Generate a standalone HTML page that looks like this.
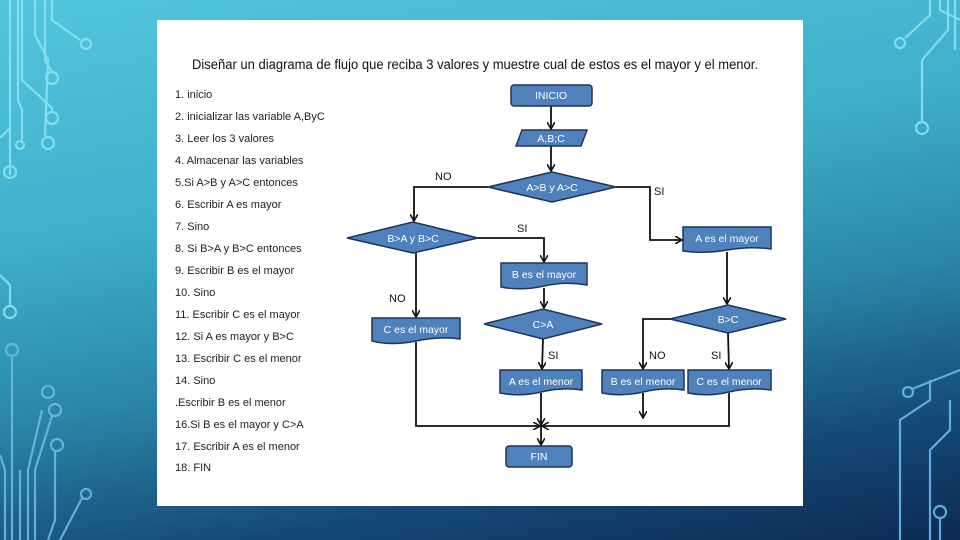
<!DOCTYPE html>
<html><head><meta charset="utf-8"><style>
html,body{margin:0;padding:0;width:960px;height:540px;overflow:hidden}
body{background:linear-gradient(170deg,#52c6dc 0%,#3fb0cc 35%,#2a86a8 60%,#154a78 82%,#0c2a52 100%);font-family:"Liberation Sans",sans-serif}
svg{position:absolute;left:0;top:0}
</style></head><body>
<svg width="960" height="540" viewBox="0 0 960 540">
<g fill="none" stroke="#8fe4f2" stroke-width="2.2" opacity="0.85">
<path d="M10 0V175M10 172"/><circle cx="10" cy="172" r="6"/>
<path d="M18 0V100L22 110V140"/><circle cx="20" cy="145" r="4"/>
<path d="M45 0V60L52 72"/><circle cx="52" cy="78" r="6"/>
<path d="M22 0V80L52 108V112"/><circle cx="52" cy="118" r="6"/>
<path d="M35 0V35L48 60L45 136"/><circle cx="48" cy="143" r="6"/>
<path d="M52 0V20L80 40"/><circle cx="86" cy="44" r="5"/>
<path d="M0 138L10 128"/>
<path d="M0 275L10 285V306"/><circle cx="10" cy="312" r="6"/>
<path d="M930 0V15L905 38"/><circle cx="900" cy="43" r="5"/>
<path d="M948 0V30L922 60V122"/><circle cx="922" cy="128" r="6"/>
<path d="M940 0V10L960 20M955 0V50"/>
</g>
<g fill="none" stroke="#6ab8ea" stroke-width="2.2" opacity="0.9">
<circle cx="12" cy="350" r="6"/><path d="M12 356V540"/>
<path d="M0 455L5 470V540M20 470V540M28 540V470L42 410"/><circle cx="48" cy="392" r="6"/>
<path d="M35 540V470L52 416"/><circle cx="55" cy="410" r="6"/>
<path d="M55 451V520L48 540"/><circle cx="57" cy="445" r="6"/>
<path d="M60 540L82 498"/><circle cx="86" cy="494" r="5"/>
<path d="M960 370L912 389"/><circle cx="908" cy="392" r="5"/>
<path d="M900 540V420L930 400V380"/>
<path d="M930 540V450L950 430V400"/>
<circle cx="940" cy="512" r="6"/><path d="M940 518V540"/>
</g>
<rect x="157" y="20" width="646" height="486" fill="#fff"/>
<text x="192" y="69" font-size="13.5" fill="#111" textLength="566" lengthAdjust="spacingAndGlyphs">Diseñar un diagrama de flujo que reciba 3 valores y muestre cual de estos es el mayor y el menor.</text>
<g font-size="11" fill="#222">
<text x="175" y="98">1. inicio</text>
<text x="175" y="120">2. inicializar las variable A,ByC</text>
<text x="175" y="142">3. Leer los 3 valores</text>
<text x="175" y="164">4. Almacenar las variables</text>
<text x="175" y="186">5.Si A&gt;B y A&gt;C entonces</text>
<text x="175" y="208">6. Escribir A es mayor</text>
<text x="175" y="230">7. Sino</text>
<text x="175" y="252">8. Si B&gt;A y B&gt;C entonces</text>
<text x="175" y="274">9. Escribir B es el mayor</text>
<text x="175" y="296">10. Sino</text>
<text x="175" y="318">11. Escribir C es el mayor</text>
<text x="175" y="340">12. Si A es mayor y B&gt;C</text>
<text x="175" y="362">13. Escribir C es el menor</text>
<text x="175" y="384">14. Sino</text>
<text x="175" y="406">.Escribir B es el menor</text>
<text x="175" y="428">16.Si B es el mayor y C&gt;A</text>
<text x="175" y="450">17. Escribir A es el menor</text>
<text x="175" y="471">18. FIN</text>
</g>
<defs><marker id="a" markerWidth="8" markerHeight="8" refX="7" refY="4" orient="auto" markerUnits="userSpaceOnUse"><path d="M0 0L7 4L0 8" fill="none" stroke="#111" stroke-width="1.6"/></marker></defs>
<g fill="none" stroke="#111" stroke-width="1.8">
<path d="M551 106V129" marker-end="url(#a)"/>
<path d="M551 146V171" marker-end="url(#a)"/>
<path d="M488 187H414V221" marker-end="url(#a)"/>
<path d="M616 187H650V240H682" marker-end="url(#a)"/>
<path d="M478 238H544V262" marker-end="url(#a)"/>
<path d="M727 252V304" marker-end="url(#a)"/>
<path d="M416 253V317" marker-end="url(#a)"/>
<path d="M544 288V308" marker-end="url(#a)"/>
<path d="M543 339L542 369" marker-end="url(#a)"/>
<path d="M670 319H643V369" marker-end="url(#a)"/>
<path d="M728 333L729 369" marker-end="url(#a)"/>
<path d="M643 393V418" marker-end="url(#a)"/>
<path d="M541 393V425" marker-end="url(#a)"/>
<path d="M416 342V426H540" marker-end="url(#a)"/>
<path d="M729 393V426H542" marker-end="url(#a)"/>
<path d="M541 426V445" marker-end="url(#a)"/>
</g>
<g fill="#4f81bd" stroke="#1e3556" stroke-width="1.5">
<rect x="511" y="85" width="81" height="21" rx="3"/>
<path d="M522 130H587L581 146H516Z"/>
<path d="M488 187L552 172L616 187L552 202Z"/>
<path d="M347 238L413 222L478 238L413 253Z"/>
<path d="M501 263H587V285Q566 281 544 286T501 287Z"/>
<path d="M683 227H771V249Q750 246 727 250T683 251Z"/>
<path d="M372 318H460V339Q440 336 416 341T372 341Z"/>
<path d="M484 324L543 309L602 324L543 339Z"/>
<path d="M670 319L728 305L786 319L728 333Z"/>
<path d="M500 370H582V390Q562 387 541 392T500 393Z"/>
<path d="M602 370H684V390Q664 387 643 392T602 393Z"/>
<path d="M688 370H771V390Q750 387 729 392T688 393Z"/>
<rect x="506" y="446" width="66" height="21" rx="3"/>
</g>
<g fill="#fff" font-size="10.5" text-anchor="middle">
<text x="551" y="99">INICIO</text>
<text x="551" y="142">A,B;C</text>
<text x="552" y="191">A&gt;B y A&gt;C</text>
<text x="413" y="242">B&gt;A y B&gt;C</text>
<text x="544" y="278">B es el mayor</text>
<text x="727" y="242">A es el mayor</text>
<text x="416" y="333">C es el mayor</text>
<text x="543" y="328">C&gt;A</text>
<text x="728" y="323">B&gt;C</text>
<text x="541" y="385">A es el menor</text>
<text x="643" y="385">B es el menor</text>
<text x="729" y="385">C es el menor</text>
<text x="539" y="460">FIN</text>
</g>
<g font-size="11" fill="#111">
<text x="435" y="180">NO</text>
<text x="654" y="195">SI</text>
<text x="517" y="232">SI</text>
<text x="389" y="302">NO</text>
<text x="548" y="359">SI</text>
<text x="649" y="359">NO</text>
<text x="711" y="359">SI</text>
</g>
</svg>
</body></html>
